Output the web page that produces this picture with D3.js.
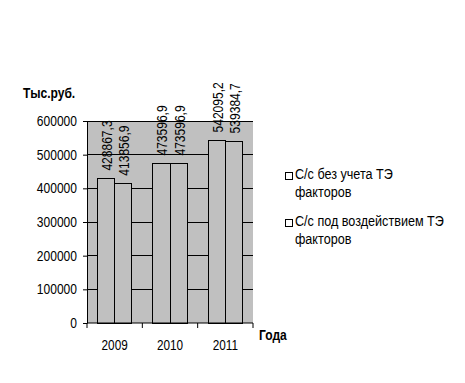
<!DOCTYPE html>
<html><head><meta charset="utf-8">
<script src="https://cdn.jsdelivr.net/npm/d3@7/dist/d3.min.js"></script>
<style>
body{margin:0;background:#fff;}
text{font-family:"Liberation Sans",Arial,sans-serif;}
</style></head>
<body>
<svg id="c" width="465" height="383"></svg>
<script>
const years = ["2009","2010","2011"];
const seriesNames = ["С/с без учета ТЭ факторов","С/с под воздействием ТЭ факторов"];
const series1 = [428867.3, 473596.9, 542095.2];
const series2 = [413856.9, 473596.9, 539384.7];
const labels1 = ["428867,3","473596,9","542095,2"];
const labels2 = ["413856,9","473596,9","539384,7"];
const yTicks = [0,100000,200000,300000,400000,500000,600000];

const svg = d3.select("#c");
const L=87, R=253, T=121, B=323;
const x = d3.scaleBand().domain(years).range([L,R]).paddingInner(0).paddingOuter(0);
const inner = d3.scaleBand().domain([0,1]).range([0,x.bandwidth()]).paddingInner(0).paddingOuter(0.62);
const y = d3.scaleLinear().domain([0,600000]).range([B,T]);

function squeeze(sel, f){
  sel.each(function(){
    const w = this.getComputedTextLength();
    d3.select(this).attr("textLength", w*f).attr("lengthAdjust","spacingAndGlyphs");
  });
}

svg.append("rect").attr("x",L).attr("y",T).attr("width",R-L).attr("height",B-T).attr("fill","#c0c0c0");
svg.append("g").selectAll("line").data(yTicks.slice(1)).join("line")
  .attr("x1",L).attr("x2",R).attr("y1",d=>y(d)).attr("y2",d=>y(d))
  .attr("stroke","#000").attr("stroke-width",1).attr("shape-rendering","crispEdges");

const data = years.map((yr,i)=>[{yr,k:0,v:series1[i],l:labels1[i]},{yr,k:1,v:series2[i],l:labels2[i]}]).flat();
svg.append("g").selectAll("rect").data(data).join("rect")
  .attr("x",d=>x(d.yr)+inner(d.k)).attr("width",inner.bandwidth())
  .attr("y",d=>y(d.v)).attr("height",d=>B-y(d.v))
  .attr("fill","#c0c0c0").attr("stroke","#000").attr("stroke-width",1).attr("shape-rendering","crispEdges");

const dl = svg.append("g").selectAll("text").data(data).join("text")
  .attr("transform",d=>`translate(${x(d.yr)+inner(d.k)+inner.bandwidth()/2+6},${y(d.v)-8}) rotate(-90)`)
  .attr("font-size",14).attr("fill","#000").text(d=>d.l);
squeeze(dl,0.86);

const ya = svg.append("g").attr("transform",`translate(${L},0)`)
  .call(d3.axisLeft(y).tickValues(yTicks).tickFormat(d3.format("d")).tickSize(4).tickSizeOuter(0));
ya.select(".domain").attr("stroke","#000");
ya.selectAll("line").attr("stroke","#000");
const yt = ya.selectAll("text").attr("font-size",14).attr("font-family",null).attr("fill","#000").attr("dx","-3");
squeeze(yt,0.86);

const xa = svg.append("g").attr("transform",`translate(0,${B})`);
xa.append("line").attr("x1",L).attr("x2",R).attr("stroke","#000");
xa.selectAll("line.t").data(years.concat(["end"])).join("line").attr("class","t")
  .attr("x1",(d,i)=>L+i*x.bandwidth()).attr("x2",(d,i)=>L+i*x.bandwidth())
  .attr("y1",0).attr("y2",5).attr("stroke","#000");
const xt = xa.selectAll("text").data(years).join("text")
  .attr("x",d=>x(d)+x.bandwidth()/2).attr("y",27).attr("text-anchor","middle")
  .attr("font-size",14).text(d=>d);
squeeze(xt,0.84);

const t1 = svg.append("text").attr("x",23).attr("y",98).attr("font-size",14).attr("font-weight","bold").text("Тыс.руб.");
squeeze(t1,0.86);
const t2 = svg.append("text").attr("x",259).attr("y",340).attr("font-size",14).attr("font-weight","bold").text("Года");
squeeze(t2,0.86);

const lg = svg.append("g");
const ly = [171, 218];
seriesNames.forEach((n,i)=>{
  lg.append("rect").attr("x",285.5).attr("y",ly[i]+1.5).attr("width",7).attr("height",7).attr("fill","#fff").attr("stroke","#000");
  const parts = n.split(" факторов");
  const t = lg.append("text").attr("font-size",14);
  t.append("tspan").attr("x",295).attr("y",ly[i]+8).text(parts[0]);
  t.append("tspan").attr("x",295).attr("y",ly[i]+26).text("факторов");
  squeeze(t.selectAll("tspan"),0.9);
});
</script>
</body></html>
